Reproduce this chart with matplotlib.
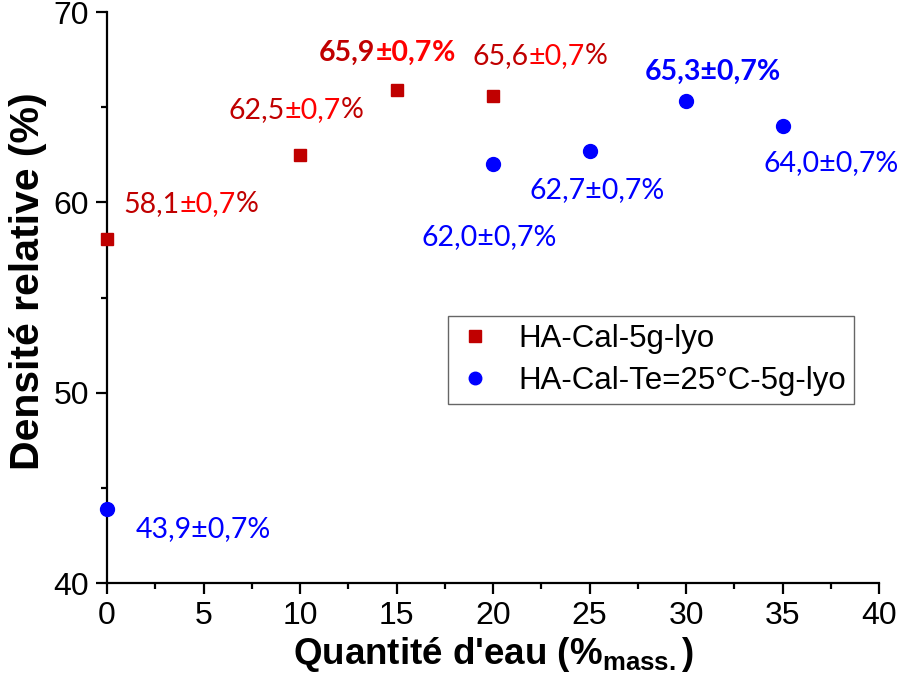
import matplotlib
matplotlib.use("Agg")
import matplotlib.pyplot as plt
from matplotlib.ticker import MultipleLocator

plt.rcParams['font.family'] = ['Liberation Sans', 'DejaVu Sans']
plt.rcParams['mathtext.fontset'] = 'custom'
plt.rcParams['mathtext.rm'] = 'Liberation Sans:bold'

# data
x_red = [0, 10, 15, 20]
y_red = [58.1, 62.5, 65.9, 65.6]
x_blue = [0, 20, 25, 30, 35]
y_blue = [43.9, 62.0, 62.7, 65.3, 64.0]
err = "0,7"

# label positions (left edge, vertical centre) and bold flags
red_lab_pos = [(0.83, 59.9), (6.27, 64.85), (10.98, 67.85), (18.91, 67.7)]
red_bold = [False, False, True, False]
blue_lab_pos = [(1.5, 42.85), (16.27, 58.18), (21.87, 60.65), (27.88, 66.85), (33.99, 62.07)]
blue_bold = [False, False, False, True, False]

dark_red = '#C00000'
bright_red = '#FF0000'
blue = '#0000FF'

fig = plt.figure(figsize=(9.04, 6.86), dpi=100)
ax = fig.add_axes([0.1184, 0.150, 0.8540, 0.8325])

ax.plot(x_red, y_red, 's', color=dark_red, markersize=9, clip_on=False,
        zorder=5, label='HA-Cal-5g-lyo')
ax.plot(x_blue, y_blue, 'o', color=blue, markersize=10, clip_on=False,
        zorder=5, label='HA-Cal-Te=25°C-5g-lyo')

lab_font = ['Lato', 'DejaVu Sans']
fs = 20.5


def fmt(v):
    return f"{v:.1f}".replace('.', ',')


for (lx, ly), v, b in zip(red_lab_pos, y_red, red_bold):
    w = 'bold' if b else 'normal'
    t1 = ax.text(lx, ly, fmt(v), color=dark_red, fontsize=fs, family=lab_font,
                 fontweight=w, va='center', ha='left')
    t2 = ax.annotate("±" + err, xy=(1, 0), xycoords=t1, color=bright_red,
                     fontsize=fs, family=lab_font, fontweight=w,
                     va='bottom', ha='left')
    ax.annotate("%", xy=(1, 0), xycoords=t2, color=dark_red if not b else bright_red,
                fontsize=fs, family=lab_font, fontweight=w,
                va='bottom', ha='left')

for (lx, ly), v, b in zip(blue_lab_pos, y_blue, blue_bold):
    w = 'bold' if b else 'normal'
    ax.text(lx, ly, fmt(v) + "±" + err + "%", color=blue, fontsize=fs,
            family=lab_font, fontweight=w, va='center', ha='left')

ax.set_xlim(0, 40)
ax.set_ylim(40, 70)
ax.xaxis.set_major_locator(MultipleLocator(5))
ax.xaxis.set_minor_locator(MultipleLocator(2.5))
ax.yaxis.set_major_locator(MultipleLocator(10))
ax.yaxis.set_minor_locator(MultipleLocator(5))

for s in ['top', 'right']:
    ax.spines[s].set_visible(False)
for s in ['left', 'bottom']:
    ax.spines[s].set_linewidth(1.6)

ax.tick_params(which='major', direction='out', length=8, width=1.6,
               labelsize=23, pad=5)
ax.tick_params(which='minor', direction='out', length=4.5, width=1.6)

ax.set_xlabel("Quantité d'eau (%$_{\\mathrm{mass.}}$)", fontsize=26.5,
              fontweight='bold', labelpad=3)
ax.set_ylabel("Densité relative (%)", fontsize=29.5, fontweight='bold')
ax.yaxis.set_label_coords(-0.078, 0.529)

leg = ax.legend(loc='upper left', bbox_to_anchor=(0.4417, 0.4676),
                borderaxespad=0, fontsize=22.5, frameon=True, fancybox=False,
                edgecolor='#404040', handlelength=1.2, handletextpad=0.8,
                borderpad=0.25, labelspacing=0.4, markerscale=0.9)
leg.get_frame().set_linewidth(1.0)

fig.savefig('out.png', dpi=100)
